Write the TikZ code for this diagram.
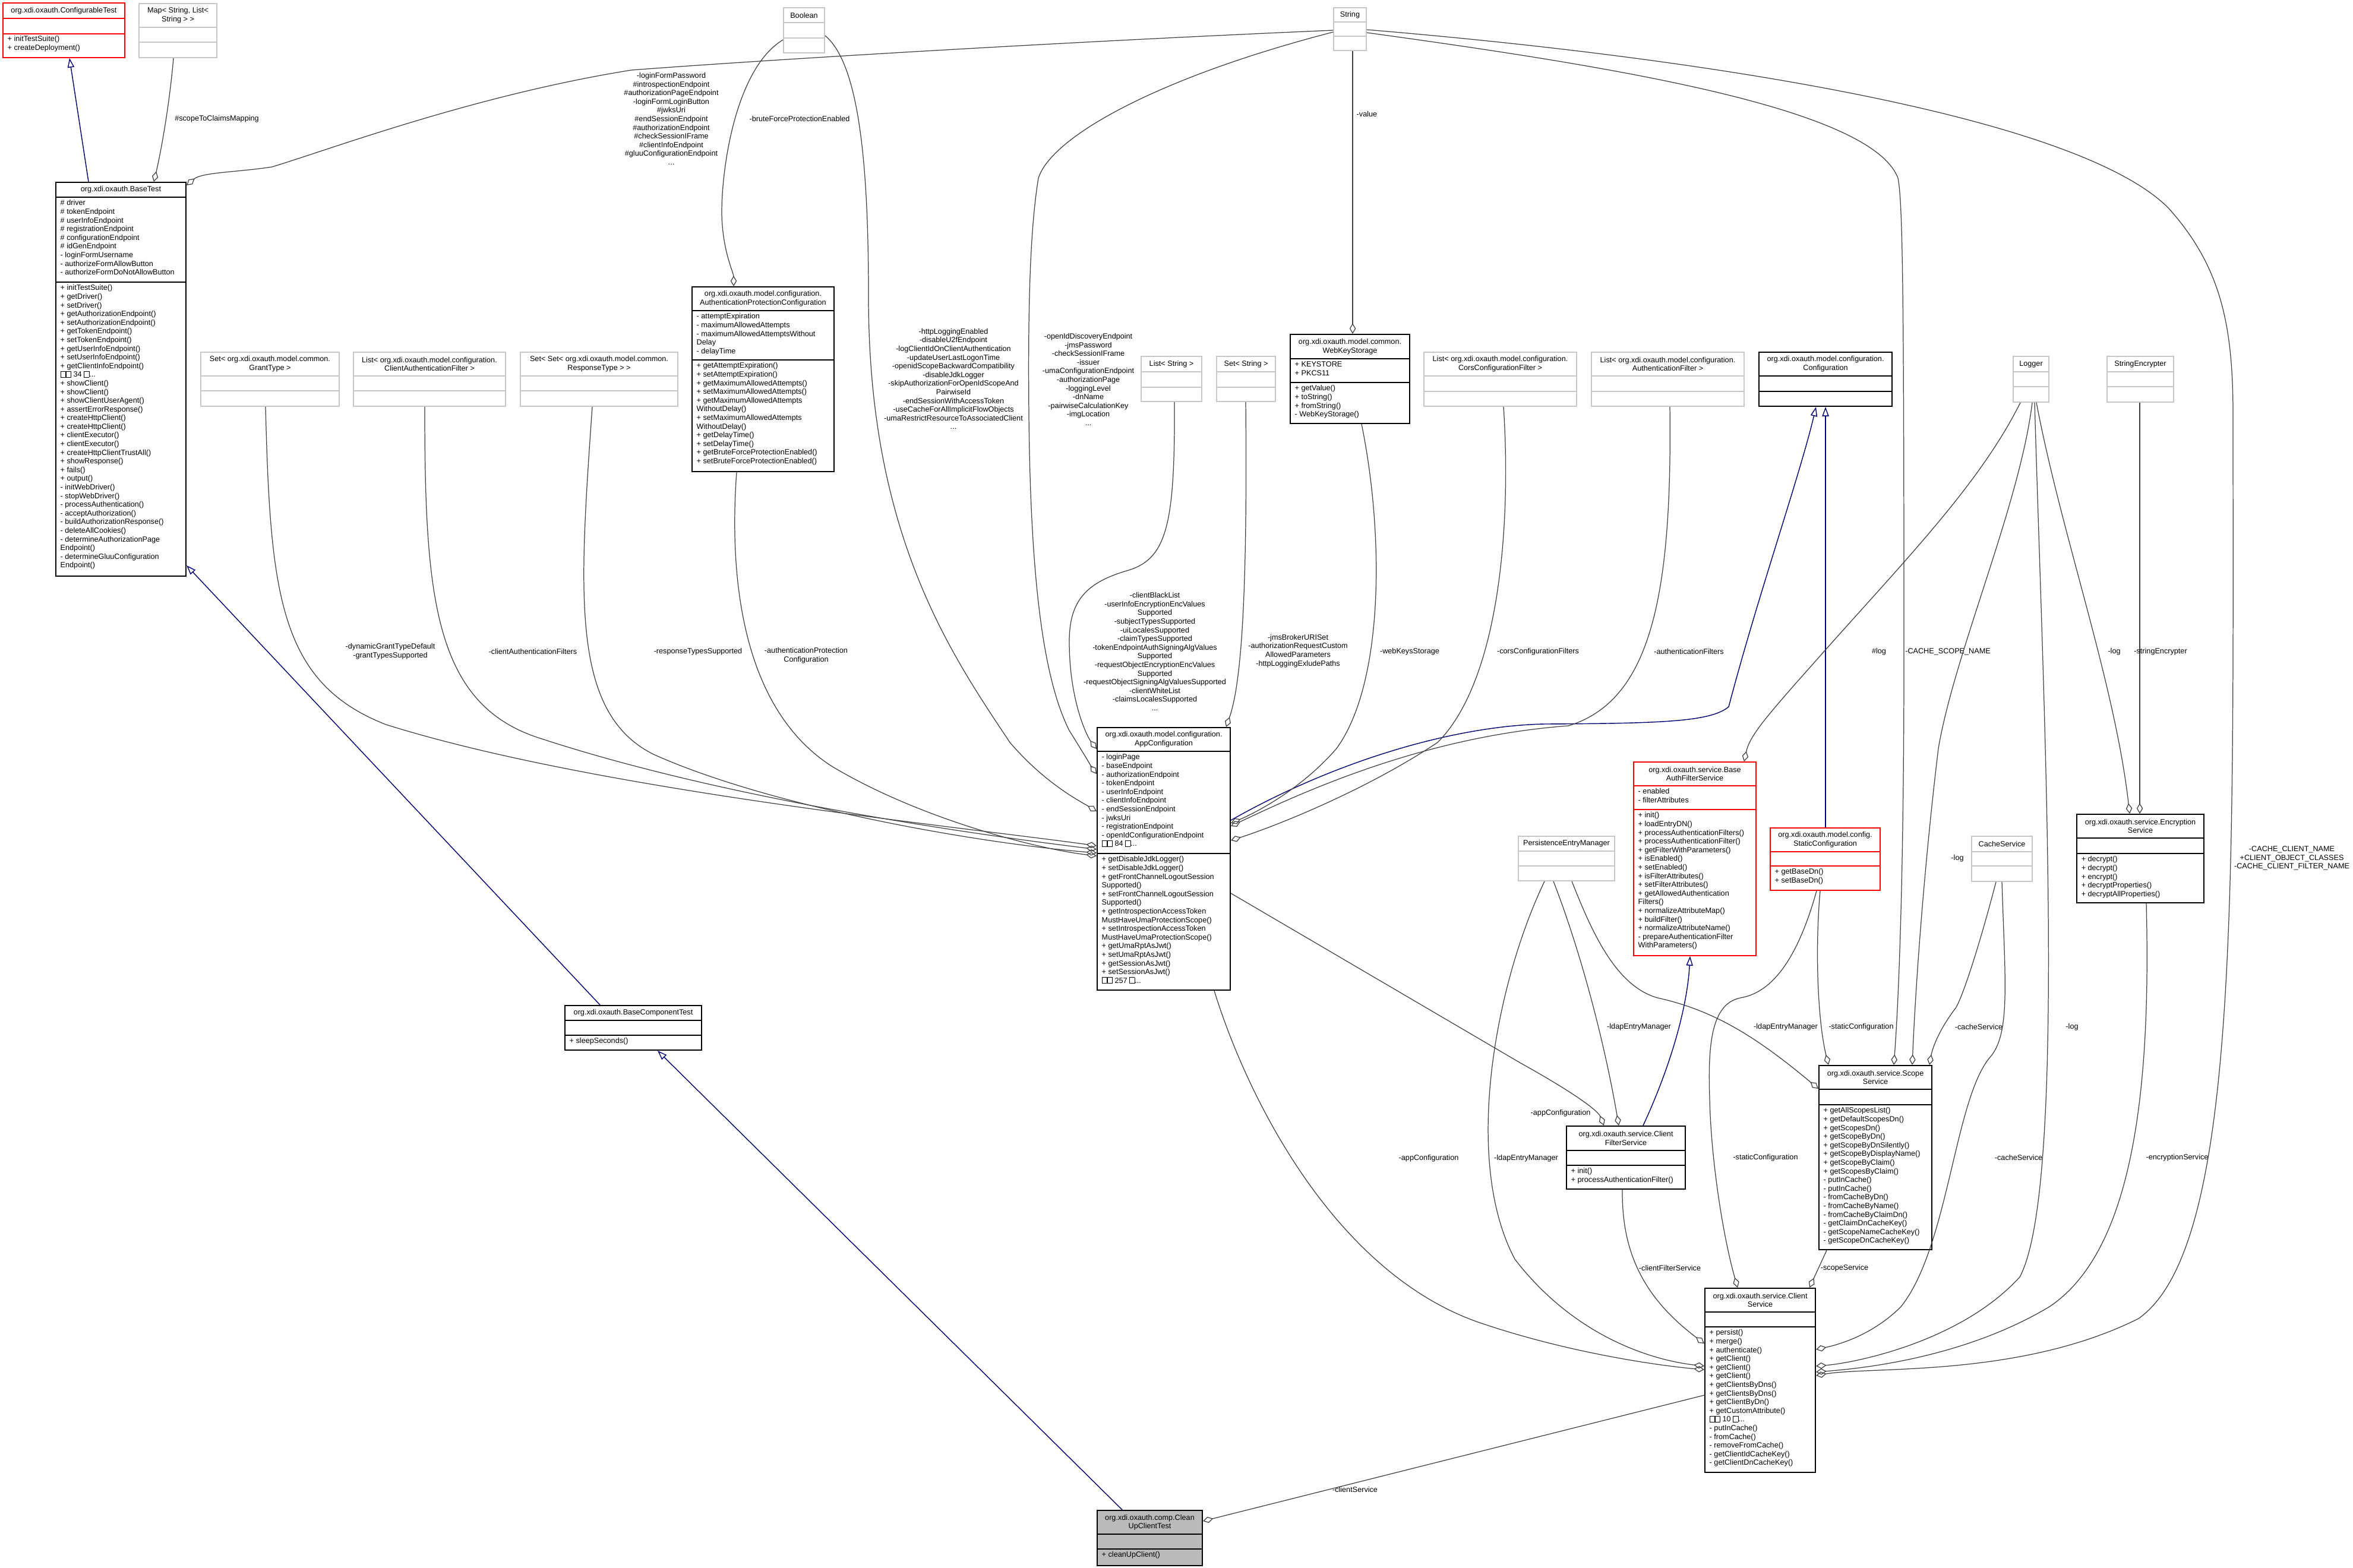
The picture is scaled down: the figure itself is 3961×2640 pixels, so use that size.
\documentclass[tikz,border=0pt]{standalone}
\usepackage{fontspec}
\setmainfont{Liberation Sans}
\usetikzlibrary{arrows.meta,fit}
\newcommand\qb{{\setlength\fboxsep{0pt}\setlength\fboxrule{0.2pt}\fbox{\rule{0pt}{2.6pt}\hspace{2.2pt}}}}
\newcommand\umlbox[9]{%
  \coordinate (#1-nw) at (#3,#5); \coordinate (#1-se) at (#4,#8);
  \node[fit=(#1-nw)(#1-se), inner sep=0pt, #2] (#1) {};
  \draw[#2, fill=none] (#3,#6) -- (#4,#6) (#3,#7) -- (#4,#7);
  \node[txt, align=center] (#1-t) at ({(#3+#4)/2},{(#5+#6)/2}) {#9};
}
\tikzset{
  txt/.style={font=\fontsize{3.6}{4.15}\selectfont, inner sep=0pt, text=black},
  mem/.style={txt, anchor=north west, align=left},
  lbl/.style={txt, align=center},
  cls/.style={draw=black, line width=0.6pt},
  ext/.style={draw=black!22, line width=0.5pt},
  redb/.style={draw=red, line width=0.5pt},
  agg/.style={draw=black!75, line width=0.35pt, -{Diamond[open, length=5pt, width=3pt]}},
  inh/.style={draw=blue!45!black, line width=0.4pt, -{Triangle[open, length=4.5pt, width=3.2pt]}},
}
\begin{document}
\begin{tikzpicture}[x=0.01cm, y=-0.01cm]
\useasboundingbox[fill=white] (0,0) rectangle (3961,2640);
% boxes
\umlbox{CfgT}{redb}{5}{210}{5}{31}{57}{97}{org.xdi.oxauth.ConfigurableTest}
\node[mem] (CfgT-m) at (12,60) {+ initTestSuite()\\+ createDeployment()};
\umlbox{Map}{ext}{234}{365}{6}{46}{71}{97}{Map< String, List<\\String > >}
\umlbox{Bool}{ext}{1319}{1388}{13}{38}{64}{89}{Boolean}
\umlbox{Str}{ext}{2245}{2300}{13}{37}{61}{85}{String}
\umlbox{BT}{cls}{94}{313}{307}{332}{475}{970}{org.xdi.oxauth.BaseTest}
\node[mem] (BT-a) at (101,336) {\# driver\\\# tokenEndpoint\\\# userInfoEndpoint\\\# registrationEndpoint\\\# configurationEndpoint\\\# idGenEndpoint\\- loginFormUsername\\- authorizeFormAllowButton\\- authorizeFormDoNotAllowButton};
\node[mem] (BT-m) at (101,479) {+ initTestSuite()\\+ getDriver()\\+ setDriver()\\+ getAuthorizationEndpoint()\\+ setAuthorizationEndpoint()\\+ getTokenEndpoint()\\+ setTokenEndpoint()\\+ getUserInfoEndpoint()\\+ setUserInfoEndpoint()\\+ getClientInfoEndpoint()\\\qb\qb\ 34 \qb...\\+ showClient()\\+ showClient()\\+ showClientUserAgent()\\+ assertErrorResponse()\\+ createHttpClient()\\+ createHttpClient()\\+ clientExecutor()\\+ clientExecutor()\\+ createHttpClientTrustAll()\\+ showResponse()\\+ fails()\\+ output()\\- initWebDriver()\\- stopWebDriver()\\- processAuthentication()\\- acceptAuthorization()\\- buildAuthorizationResponse()\\- deleteAllCookies()\\- determineAuthorizationPage\\Endpoint()\\- determineGluuConfiguration\\Endpoint()};
\umlbox{APC}{cls}{1165}{1404}{483}{523}{606}{794}{org.xdi.oxauth.model.configuration.\\AuthenticationProtectionConfiguration}
\node[mem] (APC-a) at (1172,527) {- attemptExpiration\\- maximumAllowedAttempts\\- maximumAllowedAttemptsWithout\\Delay\\- delayTime};
\node[mem] (APC-m) at (1172,610) {+ getAttemptExpiration()\\+ setAttemptExpiration()\\+ getMaximumAllowedAttempts()\\+ setMaximumAllowedAttempts()\\+ getMaximumAllowedAttempts\\WithoutDelay()\\+ setMaximumAllowedAttempts\\WithoutDelay()\\+ getDelayTime()\\+ setDelayTime()\\+ getBruteForceProtectionEnabled()\\+ setBruteForceProtectionEnabled()};
\umlbox{GT}{ext}{338}{571}{593}{633}{658}{684}{Set< org.xdi.oxauth.model.common.\\GrantType >}
\umlbox{CAF}{ext}{595}{851}{593}{633}{658}{684}{List< org.xdi.oxauth.model.configuration.\\ClientAuthenticationFilter >}
\umlbox{RT}{ext}{876}{1141}{593}{633}{658}{684}{Set< Set< org.xdi.oxauth.model.common.\\ResponseType > >}
\umlbox{LS}{ext}{1921}{2023}{600}{626}{652}{676}{List< String >}
\umlbox{SS}{ext}{2048}{2147}{600}{626}{652}{676}{Set< String >}
\umlbox{WKS}{cls}{2172}{2373}{563}{604}{644}{713}{org.xdi.oxauth.model.common.\\WebKeyStorage}
\node[mem] (WKS-a) at (2179,608) {+ KEYSTORE\\+ PKCS11};
\node[mem] (WKS-m) at (2179,648) {+ getValue()\\+ toString()\\+ fromString()\\- WebKeyStorage()};
\umlbox{Cors}{ext}{2397}{2654}{593}{633}{659}{684}{List< org.xdi.oxauth.model.configuration.\\CorsConfigurationFilter >}
\umlbox{AF}{ext}{2679}{2936}{593}{633}{659}{684}{List< org.xdi.oxauth.model.configuration.\\AuthenticationFilter >}
\umlbox{Cfg}{cls}{2961}{3185}{593}{633}{659}{684}{org.xdi.oxauth.model.configuration.\\Configuration}
\umlbox{Log}{ext}{3389}{3449}{600}{626}{651}{677}{Logger}
\umlbox{SE}{ext}{3547}{3659}{600}{626}{651}{677}{StringEncrypter}
\umlbox{AC}{cls}{1847}{2071}{1225}{1265}{1437}{1667}{org.xdi.oxauth.model.configuration.\\AppConfiguration}
\node[mem] (AC-a) at (1854,1269) {- loginPage\\- baseEndpoint\\- authorizationEndpoint\\- tokenEndpoint\\- userInfoEndpoint\\- clientInfoEndpoint\\- endSessionEndpoint\\- jwksUri\\- registrationEndpoint\\- openIdConfigurationEndpoint\\\qb\qb\ 84 \qb...};
\node[mem] (AC-m) at (1854,1441) {+ getDisableJdkLogger()\\+ setDisableJdkLogger()\\+ getFrontChannelLogoutSession\\Supported()\\+ setFrontChannelLogoutSession\\Supported()\\+ getIntrospectionAccessToken\\MustHaveUmaProtectionScope()\\+ setIntrospectionAccessToken\\MustHaveUmaProtectionScope()\\+ getUmaRptAsJwt()\\+ setUmaRptAsJwt()\\+ getSessionAsJwt()\\+ setSessionAsJwt()\\\qb\qb\ 257 \qb...};
\umlbox{BAFS}{redb}{2750}{2956}{1283}{1323}{1363}{1609}{org.xdi.oxauth.service.Base\\AuthFilterService}
\node[mem] (BAFS-a) at (2757,1327) {- enabled\\- filterAttributes};
\node[mem] (BAFS-m) at (2757,1367) {+ init()\\+ loadEntryDN()\\+ processAuthenticationFilters()\\+ processAuthenticationFilter()\\+ getFilterWithParameters()\\+ isEnabled()\\+ setEnabled()\\+ isFilterAttributes()\\+ setFilterAttributes()\\+ getAllowedAuthentication\\Filters()\\+ normalizeAttributeMap()\\+ buildFilter()\\+ normalizeAttributeName()\\- prepareAuthenticationFilter\\WithParameters()};
\umlbox{SC}{redb}{2980}{3165}{1394}{1434}{1458}{1499}{org.xdi.oxauth.model.config.\\StaticConfiguration}
\node[mem] (SC-m) at (2987,1462) {+ getBaseDn()\\+ setBaseDn()};
\umlbox{PEM}{ext}{2556}{2718}{1408}{1433}{1458}{1483}{PersistenceEntryManager}
\umlbox{Cache}{ext}{3319}{3421}{1408}{1434}{1458}{1484}{CacheService}
\umlbox{Enc}{cls}{3496}{3710}{1371}{1411}{1437}{1520}{org.xdi.oxauth.service.Encryption\\Service}
\node[mem] (Enc-m) at (3503,1441) {+ decrypt()\\+ decrypt()\\+ encrypt()\\+ decryptProperties()\\+ decryptAllProperties()};
\umlbox{Scope}{cls}{3062}{3252}{1794}{1834}{1860}{2104}{org.xdi.oxauth.service.Scope\\Service}
\node[mem] (Scope-m) at (3069,1864) {+ getAllScopesList()\\+ getDefaultScopesDn()\\+ getScopesDn()\\+ getScopeByDn()\\+ getScopeByDnSilently()\\+ getScopeByDisplayName()\\+ getScopeByClaim()\\+ getScopesByClaim()\\- putInCache()\\- putInCache()\\- fromCacheByDn()\\- fromCacheByName()\\- fromCacheByClaimDn()\\- getClaimDnCacheKey()\\- getScopeNameCacheKey()\\- getScopeDnCacheKey()};
\umlbox{CFS}{cls}{2637}{2837}{1896}{1937}{1962}{2002}{org.xdi.oxauth.service.Client\\FilterService}
\node[mem] (CFS-m) at (2644,1966) {+ init()\\+ processAuthenticationFilter()};
\umlbox{CS}{cls}{2870}{3056}{2169}{2209}{2234}{2479}{org.xdi.oxauth.service.Client\\Service}
\node[mem] (CS-m) at (2877,2238) {+ persist()\\+ merge()\\+ authenticate()\\+ getClient()\\+ getClient()\\+ getClient()\\+ getClientsByDns()\\+ getClientsByDns()\\+ getClientByDn()\\+ getCustomAttribute()\\\qb\qb\ 10 \qb...\\- putInCache()\\- fromCache()\\- removeFromCache()\\- getClientIdCacheKey()\\- getClientDnCacheKey()};
\umlbox{BCT}{cls}{951}{1181}{1693}{1718}{1743}{1768}{org.xdi.oxauth.BaseComponentTest}
\node[mem] (BCT-m) at (958,1747) {+ sleepSeconds()};
\umlbox{CU}{cls, fill=black!27}{1847}{2024}{2543}{2583}{2608}{2636}{org.xdi.oxauth.comp.Clean\\UpClientTest}
\node[mem] (CU-m) at (1854,2612) {+ cleanUpClient()};
% inheritance
\draw[inh] (149,0 |- BT.north) -- (117,0 |- CfgT.south);
\draw[inh] (1010,0 |- BCT.north) -- (BT.east |- 0,952);
\draw[inh] (1889,0 |- CU.north) -- (1107,0 |- BCT.south);
\draw[inh] (AC.east |- 0,1381) .. controls (2250,1280) and (2450,1222) .. (2600,1219) .. controls (2800,1218) and (2880,1215) .. (2910,1190) .. controls (2960,1000) and (3030,800) .. (3057,0 |- Cfg.south);
\draw[inh] (3073,0 |- SC.north) -- (3073,0 |- Cfg.south);
\draw[inh] (2766,0 |- CFS.north) .. controls (2810,1800) and (2840,1700) .. (2845,0 |- BAFS.south);
% aggregations
\draw[agg] (292,0 |- Map.south) .. controls (285,180) and (270,260) .. (259,0 |- BT.north);
\draw[agg] (Str.west |- 0,51) .. controls (1800,70) and (1300,100) .. (1063,118) .. controls (800,160) and (560,250) .. (458,281) .. controls (400,290) and (340,290) .. (BT.east |- 0,312);
\draw[agg] (Bool.west |- 0,67) .. controls (1230,120) and (1210,320) .. (1216,380) .. controls (1220,430) and (1235,460) .. (1235,0 |- APC.north);
\draw[agg] (Bool.east |- 0,60) .. controls (1450,110) and (1462,300) .. (1462,500) .. controls (1462,900) and (1600,1100) .. (1700,1250) .. controls (1760,1320) and (1820,1350) .. (AC.west |- 0,1366);
\draw[agg] (Str.west |- 0,54) .. controls (1950,130) and (1770,230) .. (1748,300) .. controls (1735,380) and (1730,500) .. (1732,700) .. controls (1735,1000) and (1760,1150) .. (1800,1230) .. controls (1825,1270) and (1840,1295) .. (AC.west |- 0,1303);
\draw[agg] (1977,0 |- LS.south) .. controls (1978,880) and (1965,940) .. (1900,960) .. controls (1830,980) and (1800,1010) .. (1800,1080) .. controls (1800,1180) and (1830,1240) .. (AC.west |- 0,1261);
\draw[agg] (2097,0 |- SS.south) .. controls (2100,1000) and (2090,1150) .. (2064,0 |- AC.north);
\draw[agg] (2292,0 |- WKS.south) .. controls (2330,900) and (2330,1150) .. (2250,1260) .. controls (2190,1330) and (2110,1370) .. (AC.east |- 0,1386);
\draw[agg] (2277,0 |- Str.south) -- (2277,0 |- WKS.north);
\draw[agg] (2531,0 |- Cors.south) .. controls (2545,900) and (2520,1150) .. (2420,1250) .. controls (2300,1330) and (2150,1390) .. (AC.east |- 0,1415);
\draw[agg] (2811,0 |- AF.south) .. controls (2815,1000) and (2780,1180) .. (2640,1222) .. controls (2400,1240) and (2200,1330) .. (AC.east |- 0,1391);
\draw[agg] (447,0 |- GT.south) .. controls (455,1000) and (470,1150) .. (650,1220) .. controls (1000,1330) and (1600,1390) .. (AC.west |- 0,1424);
\draw[agg] (715,0 |- CAF.south) .. controls (715,1000) and (730,1180) .. (900,1240) .. controls (1200,1340) and (1600,1400) .. (AC.west |- 0,1430);
\draw[agg] (997,0 |- RT.south) .. controls (975,1000) and (960,1200) .. (1100,1270) .. controls (1300,1360) and (1650,1420) .. (AC.west |- 0,1436);
\draw[agg] (1240,0 |- APC.south) .. controls (1225,1000) and (1260,1200) .. (1400,1290) .. controls (1550,1380) and (1750,1430) .. (AC.west |- 0,1441);
\draw[agg] (3401,0 |- Log.south) .. controls (3330,820) and (3200,950) .. (3050,1120) .. controls (2970,1210) and (2945,1240) .. (2936,0 |- BAFS.north);
\draw[agg] (Str.east |- 0,55) .. controls (2700,110) and (3150,180) .. (3195,300) .. controls (3203,340) and (3205,500) .. (3205,1100) .. controls (3205,1500) and (3195,1700) .. (3188,0 |- Scope.north);
\draw[agg] (3421,0 |- Log.south) .. controls (3400,850) and (3290,1100) .. (3263,1260) .. controls (3240,1450) and (3225,1650) .. (3219,0 |- Scope.north);
\draw[agg] (3360,0 |- Cache.south) .. controls (3330,1600) and (3300,1690) .. (3290,1700) .. controls (3260,1740) and (3252,1770) .. (3248,0 |- Scope.north);
\draw[agg] (3064,0 |- SC.south) .. controls (3055,1600) and (3060,1720) .. (3078,0 |- Scope.north);
\draw[agg] (2646,0 |- PEM.south) .. controls (2680,1570) and (2720,1660) .. (2790,1680) .. controls (2880,1700) and (2950,1740) .. (Scope.west |- 0,1833);
\draw[agg] (2615,0 |- PEM.south) .. controls (2660,1600) and (2700,1750) .. (2725,0 |- CFS.north);
\draw[agg] (AC.east |- 0,1504) -- (2560,1790) .. controls (2650,1840) and (2690,1870) .. (2700,0 |- CFS.north);
\draw[agg] (3428,0 |- Log.south) .. controls (3470,900) and (3560,1150) .. (3585,0 |- Enc.north);
\draw[agg] (3602,0 |- SE.south) -- (3602,0 |- Enc.north);
\draw[agg] (2731,0 |- CFS.south) .. controls (2730,2100) and (2760,2180) .. (CS.west |- 0,2262);
\draw[agg] (3058,0 |- SC.south) .. controls (3030,1600) and (2990,1670) .. (2930,1680) .. controls (2880,1690) and (2875,1760) .. (2878,1850) .. controls (2880,1950) and (2900,2080) .. (2925,0 |- CS.north);
\draw[agg] (3075,0 |- Scope.south) -- (3046,0 |- CS.north);
\draw[agg] (2044,0 |- AC.south) .. controls (2100,1850) and (2250,2150) .. (2500,2230) .. controls (2650,2280) and (2800,2300) .. (CS.west |- 0,2306);
\draw[agg] (2600,0 |- PEM.south) .. controls (2520,1650) and (2460,1950) .. (2550,2120) .. controls (2650,2250) and (2780,2290) .. (CS.west |- 0,2300);
\draw[agg] (3370,0 |- Cache.south) .. controls (3375,1650) and (3385,1740) .. (3350,1780) .. controls (3290,1850) and (3280,2100) .. (3200,2200) .. controls (3150,2250) and (3090,2265) .. (CS.east |- 0,2272);
\draw[agg] (3425,0 |- Log.south) .. controls (3440,1200) and (3480,2000) .. (3400,2150) .. controls (3300,2260) and (3120,2295) .. (CS.east |- 0,2300);
\draw[agg] (3613,0 |- Enc.south) .. controls (3620,1800) and (3600,2100) .. (3450,2200) .. controls (3300,2290) and (3120,2305) .. (CS.east |- 0,2310);
\draw[agg] (Str.east |- 0,50) .. controls (2900,100) and (3500,200) .. (3650,350) .. controls (3740,450) and (3759,550) .. (3759,700) .. controls (3759,1500) and (3770,2100) .. (3600,2220) .. controls (3400,2320) and (3150,2300) .. (CS.east |- 0,2316);
\draw[agg] (CS.west |- 0,2349) -- (CU.east |- 0,2561);
% labels
\node[lbl] (L1) at (365,200) {\#scopeToClaimsMapping};
\node[lbl] (L2) at (1130,200) {-loginFormPassword\\\#introspectionEndpoint\\\#authorizationPageEndpoint\\-loginFormLoginButton\\\#jwksUri\\\#endSessionEndpoint\\\#authorizationEndpoint\\\#checkSessionIFrame\\\#clientInfoEndpoint\\\#gluuConfigurationEndpoint\\...};
\node[lbl] (L3) at (1346,200) {-bruteForceProtectionEnabled};
\node[lbl] (L4) at (1605,638) {-httpLoggingEnabled\\-disableU2fEndpoint\\-logClientIdOnClientAuthentication\\-updateUserLastLogonTime\\-openidScopeBackwardCompatibility\\-disableJdkLogger\\-skipAuthorizationForOpenIdScopeAnd\\PairwiseId\\-endSessionWithAccessToken\\-useCacheForAllImplicitFlowObjects\\-umaRestrictResourceToAssociatedClient\\...};
\node[lbl] (L5) at (1832,639) {-openIdDiscoveryEndpoint\\-jmsPassword\\-checkSessionIFrame\\-issuer\\-umaConfigurationEndpoint\\-authorizationPage\\-loggingLevel\\-dnName\\-pairwiseCalculationKey\\-imgLocation\\...};
\node[lbl] (L6) at (1944,1097) {-clientBlackList\\-userInfoEncryptionEncValues\\Supported\\-subjectTypesSupported\\-uiLocalesSupported\\-claimTypesSupported\\-tokenEndpointAuthSigningAlgValues\\Supported\\-requestObjectEncryptionEncValues\\Supported\\-requestObjectSigningAlgValuesSupported\\-clientWhiteList\\-claimsLocalesSupported\\...};
\node[lbl] (L7) at (2185,1096) {-jmsBrokerURISet\\-authorizationRequestCustom\\AllowedParameters\\-httpLoggingExludePaths};
\node[lbl] (L8) at (2373,1097) {-webKeysStorage};
\node[lbl] (L9) at (2283,192) [anchor=west] {-value};
\node[lbl] (L10) at (2589,1097) {-corsConfigurationFilters};
\node[lbl] (L11) at (2843,1097) {-authenticationFilters};
\node[lbl] (L12) at (657,1097) {-dynamicGrantTypeDefault\\-grantTypesSupported};
\node[lbl] (L13) at (897,1097) {-clientAuthenticationFilters};
\node[lbl] (L14) at (1175,1097) {-responseTypesSupported};
\node[lbl] (L15) at (1357,1104) {-authenticationProtection\\Configuration};
\node[lbl] (L16) at (3163,1097) {\#log};
\node[lbl] (L17) at (3279,1097) {-CACHE\_SCOPE\_NAME};
\node[lbl] (L18) at (3559,1097) {-log};
\node[lbl] (L19) at (3637,1097) {-stringEncrypter};
\node[lbl] (L20) at (3858,1445) {-CACHE\_CLIENT\_NAME\\+CLIENT\_OBJECT\_CLASSES\\-CACHE\_CLIENT\_FILTER\_NAME};
\node[lbl] (L21) at (3295,1445) {-log};
\node[lbl] (L22) at (3331,1729) {-cacheService};
\node[lbl] (L23) at (3133,1729) {-staticConfiguration};
\node[lbl] (L24) at (3006,1729) {-ldapEntryManager};
\node[lbl] (L25) at (2759,1729) {-ldapEntryManager};
\node[lbl] (L26) at (2627,1874) {-appConfiguration};
\node[lbl] (L27) at (3488,1729) {-log};
\node[lbl] (L28) at (2972,1949) {-staticConfiguration};
\node[lbl] (L29) at (3398,1949) {-cacheService};
\node[lbl] (L30) at (3665,1949) {-encryptionService};
\node[lbl] (L31) at (2811,2135) {-clientFilterService};
\node[lbl] (L32) at (3105,2135) {-scopeService};
\node[lbl] (L33) at (2405,1950) {-appConfiguration};
\node[lbl] (L34) at (2569,1950) {-ldapEntryManager};
\node[lbl] (L35) at (2281,2508) {-clientService};
\end{tikzpicture}
\end{document}
